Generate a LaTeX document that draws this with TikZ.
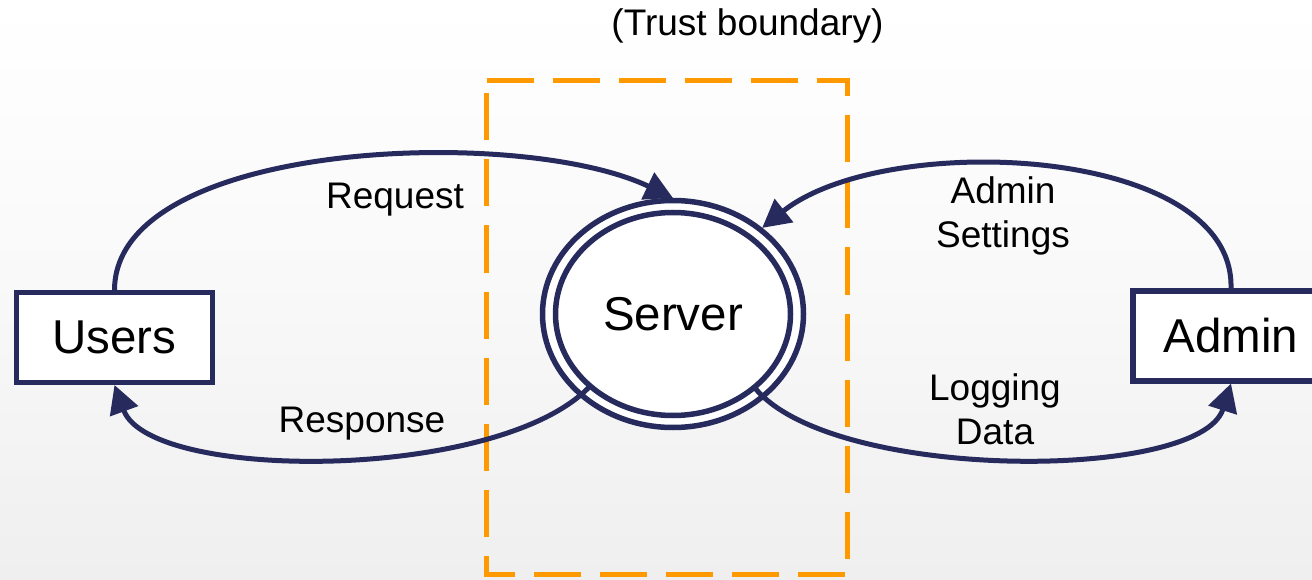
\documentclass[tikz,border=0pt]{standalone}
\usepackage{fontspec}
\setmainfont{Liberation Sans}
\usetikzlibrary{arrows.meta,shapes.geometric}
\definecolor{navy}{HTML}{262A5C}
\definecolor{tborange}{HTML}{FF9900}
\definecolor{bgbot}{HTML}{EFEFEF}
\begin{document}
\begin{tikzpicture}[x=1pt,y=-1pt,
  flow/.style={draw=navy, line width=5pt, -{Triangle[length=28pt,width=29pt]}},
  entity/.style={draw=navy, line width=5.5pt, fill=white, minimum width=196pt, minimum height=90pt, inner sep=0pt, outer sep=2.5pt, font=\fontsize{47.5}{56}\selectfont},
  lbl/.style={font=\fontsize{37}{44}\selectfont, align=center, inner sep=0pt},
  boundary/.style={draw=tborange, line width=5pt, dash pattern=on 47pt off 19pt}
]
\useasboundingbox (0,0) rectangle (1312,580);
\shade[top color=white, bottom color=bgbot, middle color=white!60!bgbot] (0,0) rectangle (1312,580);

% trust boundary
\draw[boundary] (486.5,80.5) -- (847.5,80.5) -- (847.5,574.5) -- (486.5,574.5) -- cycle;
\node[lbl] (tblabel) at (747.5,26) {(Trust boundary)};

% entities
\node[entity] (users) at (114.5,337.5) {Users};
\node[entity] (admin) at (1231,336) {Admin};

% server (double ellipse)
\node[ellipse, draw=navy, line width=5.5pt, fill=white, minimum width=261pt, minimum height=227pt, inner sep=0pt, outer sep=2.5pt] (ring) at (673,314) {};
\node[ellipse, draw=navy, line width=5.5pt, minimum width=235pt, minimum height=203pt, inner sep=0pt, outer sep=0pt, font=\fontsize{47.5}{56}\selectfont] (server) at (673,314) {Server};

% flows
\draw[flow] (users.north) .. controls (115,140) and (520,125) .. (ring.north);
\draw[flow] (server.221) .. controls (500,482) and (150,482) .. (users.south);
\draw[flow] (admin.north) .. controls (1235,145) and (885,130) .. (ring.44);
\draw[flow] (server.-42) .. controls (830,482) and (1200,482) .. (admin.south);

% labels
\node[lbl] (lreq) at (395,200) {Request};
\node[lbl] (lresp) at (362,424) {Response};
\node[lbl] (ladm) at (1003,216) {Admin\\Settings};
\node[lbl] (llog) at (995,409) {Logging\\Data};
\end{tikzpicture}
\end{document}
